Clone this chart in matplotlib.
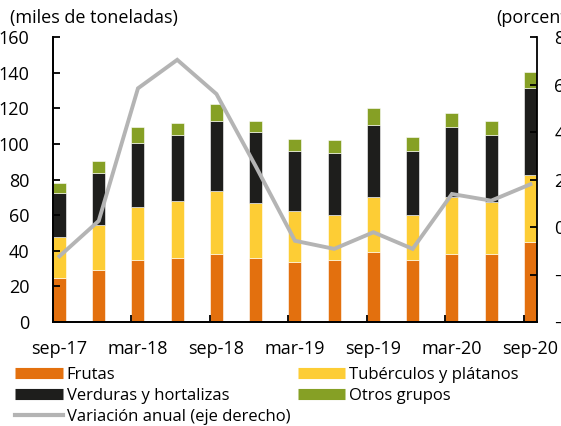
import matplotlib
matplotlib.use("Agg")
import matplotlib.pyplot as plt
from matplotlib.lines import Line2D
import numpy as np

plt.rcParams['font.family'] = ['Open Sans', 'DejaVu Sans']

# trimestres sep-17 ... sep-20
periodos = ['sep-17', 'dic-17', 'mar-18', 'jun-18', 'sep-18', 'dic-18', 'mar-19',
            'jun-19', 'sep-19', 'dic-19', 'mar-20', 'jun-20', 'sep-20']
frutas = [24.8, 29.4, 35.0, 36.1, 38.4, 36.1, 33.9, 35.0, 39.5, 35.0, 38.4, 38.4, 45.2]
tuberculos = [22.8, 25.0, 29.6, 31.9, 35.2, 30.7, 28.4, 25.2, 30.7, 25.2, 31.8, 28.8, 37.4]
verduras = [24.7, 29.2, 35.9, 37.0, 39.5, 39.6, 33.9, 34.9, 40.5, 36.0, 39.5, 38.0, 48.6]
otros = [5.8, 6.9, 9.2, 7.0, 9.1, 6.7, 6.8, 6.9, 9.2, 7.9, 7.9, 7.9, 9.0]
variacion = [-12.3, 2.6, 58.4, 70.4, 56.0, 25.6, -5.8, -9.2, -2.2, -9.2, 13.9, 11.1, 18.0]

c_frutas = '#E3700E'
c_tub = '#FDCD35'
c_verd = '#1E1E1C'
c_otros = '#86A025'
c_line = '#B4B4B4'

x = np.arange(len(periodos))
w = 0.33

fig = plt.figure(figsize=(5.61, 4.26), dpi=100)
ax = fig.add_axes([0.0945, 0.2441, 0.8625, 0.669])
ax2 = ax.twinx()

b1 = np.array(frutas)
b2 = b1 + np.array(tuberculos)
b3 = b2 + np.array(verduras)
ax.bar(x, frutas, w, color=c_frutas, edgecolor='white', linewidth=0.4)
ax.bar(x, tuberculos, w, bottom=b1, color=c_tub, edgecolor='white', linewidth=0.4)
ax.bar(x, verduras, w, bottom=b2, color=c_verd, edgecolor='white', linewidth=0.4)
ax.bar(x, otros, w, bottom=b3, color=c_otros, edgecolor='white', linewidth=0.4)

ax2.plot(x, variacion, color=c_line, lw=2.8, solid_joinstyle='miter')

ax.set_xlim(-w / 2, x[-1] + w / 2)
ax.set_ylim(0, 160)
ax.set_yticks(range(0, 161, 20))
ax2.set_ylim(-40, 80)
ax2.set_yticks(range(-40, 81, 20))

ax.set_xticks(x[::2] - w / 2)
ax.set_xticklabels([])
ax.set_xticks(x[::2], minor=True)
ax.set_xticklabels(periodos[::2], minor=True)

for a in (ax, ax2):
    a.spines['top'].set_visible(False)
    for s in a.spines.values():
        s.set_linewidth(1.3)
ax.spines['right'].set_visible(False)
ax.tick_params(axis='y', direction='in', length=5, width=1.3, pad=17, labelsize=13, colors='black')
ax.tick_params(axis='x', which='major', direction='in', length=5, width=1.3)
ax.tick_params(axis='x', which='minor', length=0, pad=13, labelsize=13)
ax2.tick_params(axis='y', direction='in', length=5, width=1.3, pad=12.5, labelsize=13)

fig.text(0.018, 0.958, '(miles de toneladas)', fontsize=13, va='center', ha='left')
fig.text(0.884, 0.958, '(porcentaje)', fontsize=13, va='center', ha='left')

handles = [
    Line2D([], [], color=c_frutas, lw=8, solid_capstyle='butt'),
    Line2D([], [], color=c_verd, lw=8, solid_capstyle='butt'),
    Line2D([], [], color=c_line, lw=3),
    Line2D([], [], color=c_tub, lw=8, solid_capstyle='butt'),
    Line2D([], [], color=c_otros, lw=8, solid_capstyle='butt'),
]
labels = ['Frutas', 'Verduras y hortalizas', 'Variación anual (eje derecho)',
          'Tubérculos y plátanos', 'Otros grupos']
fig.legend(handles, labels, ncol=2, loc='upper left', bbox_to_anchor=(0.027, 0.138),
           frameon=False, fontsize=12, handlelength=2.85, handletextpad=0.25,
           columnspacing=0.45, labelspacing=0.3, borderpad=0, borderaxespad=0)

fig.savefig('out.png', dpi=100)
